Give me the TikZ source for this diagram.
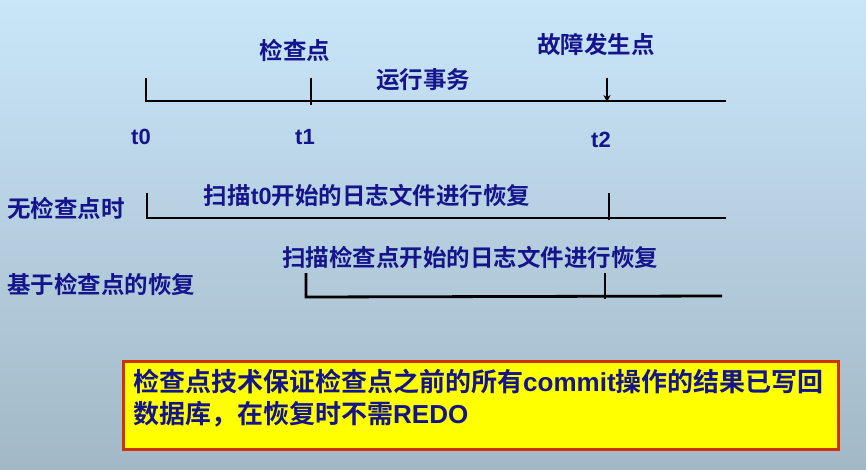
\documentclass[tikz,border=0pt]{standalone}
\usepackage{fontspec}
\setmainfont{Liberation Sans}
\newfontfamily\cjk{Noto Sans CJK SC}[BoldFont={Noto Sans CJK SC Bold}]
\newfontfamily\lat{Liberation Sans}
\usetikzlibrary{arrows.meta}
\definecolor{bgtop}{RGB}{201,230,249}
\definecolor{bgbot}{RGB}{162,184,198}
\definecolor{ink}{RGB}{20,20,140}
\definecolor{boxfill}{RGB}{255,255,0}
\definecolor{boxedge}{RGB}{204,51,0}
\begin{document}
\begin{tikzpicture}[x=1pt,y=-1pt,
  lbl/.style={text=ink,font=\cjk\bfseries\fontsize{23.5}{27}\selectfont,inner sep=0pt},
  tlbl/.style={text=ink,font=\lat\bfseries\fontsize{22}{25}\selectfont,inner sep=0pt},
  axis/.style={line width=2.8pt,black},
  notebox/.style={draw=boxedge,line width=3pt,fill=boxfill,inner sep=0pt,
    minimum width=715pt,minimum height=88pt,anchor=north west},
  notetext/.style={text=ink,font=\cjk\bfseries\fontsize{26}{31.5}\selectfont,
    align=left,inner sep=0pt,anchor=north west}]
% background
\shade[top color=bgtop,bottom color=bgbot] (0,0) rectangle (866,470);
\useasboundingbox (0,0) rectangle (866,470);

% main time line
\coordinate (a0t) at (146,78);
\coordinate (a0) at (146,101);
\coordinate (a1t) at (311,78);
\coordinate (a1b) at (311,105);
\coordinate (a2t) at (607,78);
\coordinate (a2) at (607,102);
\coordinate (aend) at (726,101);
\draw[axis] (a0t) -- (a0) -- (aend);
\draw[axis] (a1t) -- (a1b);
\draw[line width=2.2pt,-{Stealth[length=7pt,width=7pt]}] (a2t) -- (a2);

\node[lbl] (ckp) at (295,50) {检查点};
\node[lbl] (fail) at (596,45) {故障发生点};
\node[lbl] (run) at (423,80) {运行事务};
\node[tlbl] (t0) at (141,137) {t0};
\node[tlbl] (t1) at (305,137) {t1};
\node[tlbl] (t2) at (601,140) {t2};

% recovery without checkpoint
\coordinate (b0t) at (147,193);
\coordinate (b0) at (147,218);
\coordinate (b2t) at (609,193);
\coordinate (b2b) at (609,220);
\coordinate (bend) at (726,218);
\draw[axis] (b0t) -- (b0) -- (bend);
\draw[axis] (b2t) -- (b2b);
\node[lbl,anchor=west] (nockp) at (7,208) {无检查点时};
\node[lbl] (scan0) at (367,196) {扫描{\lat\bfseries t0}开始的日志文件进行恢复};

% recovery from checkpoint
\coordinate (c1t) at (306,273);
\coordinate (c1) at (306,297);
\coordinate (c2t) at (605,273);
\coordinate (c2b) at (605,299);
\coordinate (cend) at (722,296);
\draw[axis] (c1t) -- (c1) -- (cend);
\draw[axis] (c2t) -- (c2b);
\node[lbl,anchor=west] (withckp) at (7,284) {基于检查点的恢复};
\node[lbl] (scan1) at (470,257) {扫描检查点开始的日志文件进行恢复};

% note box
\node[notebox] (memo) at (122,360) {};
\node[notetext] (memotext) at (133,369)
  {检查点技术保证检查点之前的所有{\lat\bfseries commit}操作的结果已写回\\数据库，在恢复时不需{\lat\bfseries REDO}};
\end{tikzpicture}
\end{document}
